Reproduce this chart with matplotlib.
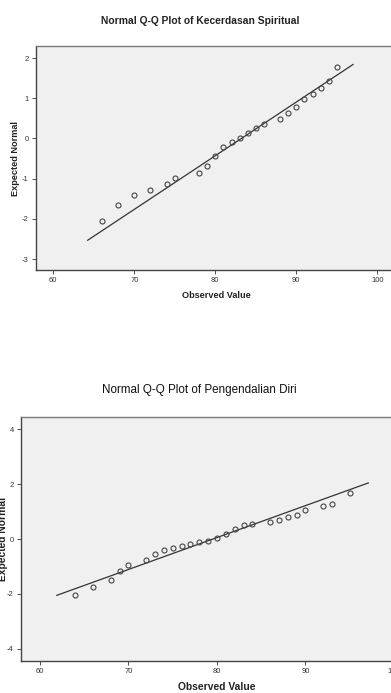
import numpy as np
import matplotlib.pyplot as plt

plt.rcParams['font.family'] = ['Liberation Sans', 'DejaVu Sans']
plt.rcParams['axes.unicode_minus'] = False

# Kecerdasan Spiritual
obs1 = [66, 68, 70, 72, 74, 75, 78, 79, 80, 81, 82, 83, 84, 85, 86,
        88, 89, 90, 91, 92, 93, 94, 95]
exp1 = [-2.06, -1.65, -1.41, -1.29, -1.14, -0.97, -0.85, -0.69, -0.43, -0.22,
        -0.09, 0.01, 0.13, 0.25, 0.35, 0.49, 0.64, 0.79, 0.98, 1.10, 1.25,
        1.42, 1.77]
line1_x = [64.25, 97.0]
line1_y = [-2.53, 1.84]

# Pengendalian Diri
obs2 = [64, 66, 68, 69, 70, 72, 73, 74, 75, 76, 77, 78, 79, 80, 81, 82, 83,
        84, 86, 87, 88, 89, 90, 92, 93, 95]
exp2 = [-2.05, -1.76, -1.48, -1.18, -0.96, -0.75, -0.53, -0.39, -0.32, -0.27,
        -0.18, -0.11, -0.06, 0.04, 0.18, 0.36, 0.50, 0.55, 0.62, 0.70, 0.80,
        0.89, 1.07, 1.20, 1.29, 1.67]
line2_x = [61.9, 97.1]
line2_y = [-2.05, 2.04]

W, H = 391, 693
fig = plt.figure(figsize=(W / 100, H / 100), dpi=100)

def make_ax(left, top, bottom, right, xlim, ylim, yticks):
    ax = fig.add_axes([left / W, 1 - bottom / H, (right - left) / W, (bottom - top) / H])
    ax.set_facecolor('#f0f0f0')
    ax.set_xlim(xlim)
    ax.set_ylim(ylim)
    ax.set_xticks([60, 70, 80, 90, 100])
    ax.set_yticks(yticks)
    for s in ax.spines.values():
        s.set_color('#7a7a7a')
        s.set_linewidth(1.0)
    ax.spines['left'].set_color('#444444')
    ax.spines['bottom'].set_color('#444444')
    ax.tick_params(length=3, width=0.6, labelsize=5.5, colors='#333333', pad=2)
    return ax

ax1 = make_ax(35.7, 46, 270, 400, (57.83, 102.8), (-3.27, 2.3), [-3, -2, -1, 0, 1, 2])
ax1.plot(line1_x, line1_y, color='#333333', lw=0.9)
ax1.plot(obs1, exp1, 'o', mfc='none', mec='#444444', ms=3.6, mew=0.8)

ax2 = make_ax(20.7, 417, 661, 400, (57.82, 100.68), (-4.44, 4.44), [-4, -2, 0, 2, 4])
ax2.plot(line2_x, line2_y, color='#333333', lw=0.9)
ax2.plot(obs2, exp2, 'o', mfc='none', mec='#444444', ms=3.6, mew=0.8)

fig.text(200 / W, 1 - 21 / H, 'Normal Q-Q Plot of Kecerdasan Spiritual',
         ha='center', va='center', fontsize=7.4, fontweight='bold', color='#222222')
fig.text(199.5 / W, 1 - 390 / H, 'Normal Q-Q Plot of Pengendalian Diri',
         ha='center', va='center', fontsize=8.4, color='#111111')

fig.text(216 / W, 1 - 295 / H, 'Observed Value', ha='center', va='center',
         fontsize=6.6, fontweight='bold', color='#222222')
fig.text(217 / W, 1 - 687 / H, 'Observed Value', ha='center', va='center',
         fontsize=7.4, fontweight='bold', color='#222222')
fig.text(15.7 / W, 1 - 158 / H, 'Expected Normal', ha='center', va='center',
         rotation=90, fontsize=6.6, fontweight='bold', color='#222222')
fig.text(3 / W, 1 - 539 / H, 'Expected Normal', ha='center', va='center',
         rotation=90, fontsize=7.4, fontweight='bold', color='#222222')

fig.savefig('out.png', dpi=100)
